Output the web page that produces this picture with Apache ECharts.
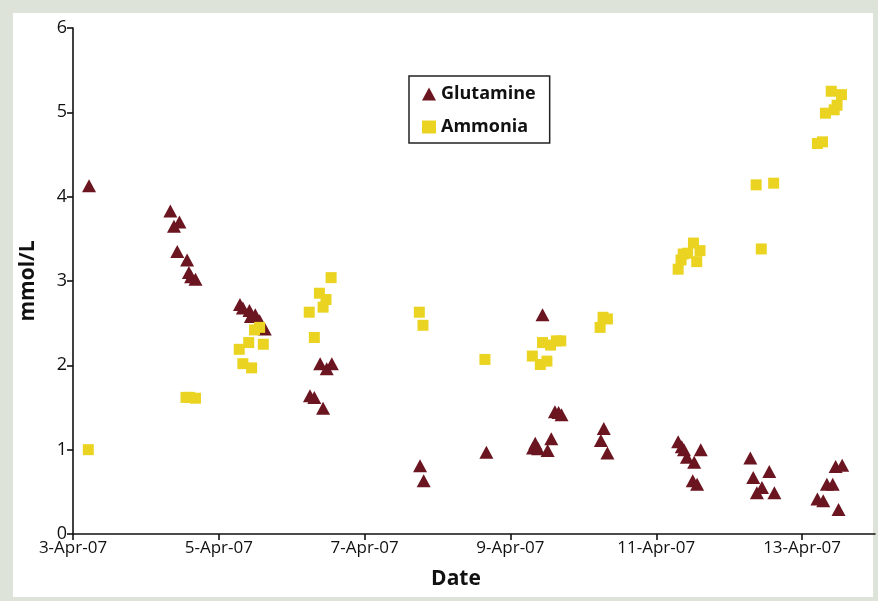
<!DOCTYPE html>
<html>
<head>
<meta charset="utf-8">
<script src="https://cdn.jsdelivr.net/npm/echarts@6/dist/echarts.min.js"></script>
<style>
  html, body { margin: 0; padding: 0; }
  #wrap { position: relative; width: 878px; height: 601px; background: #dde3d9; }
  #panel { position: absolute; left: 13px; top: 13px; width: 860px; height: 584px; background: #ffffff; }
  #chart { position: absolute; left: 0; top: 0; width: 878px; height: 601px; }
</style>
</head>
<body>
<div id="wrap"><div id="panel"></div><div id="chart"></div></div>
<script>
// x values are days since 3-Apr-07
const xTickValues = [0, 2, 4, 6, 8, 10];
const xTickLabels = ['3-Apr-07', '5-Apr-07', '7-Apr-07', '9-Apr-07', '11-Apr-07', '13-Apr-07'];

const glutamineDays = [0.22, 1.335, 1.46, 1.385, 1.43, 1.565, 1.59, 1.62, 1.68, 2.29, 2.33, 2.42, 2.44, 2.50, 2.56, 2.63,
  3.39, 3.55, 3.48, 3.25, 3.31, 3.43, 4.76, 4.81, 5.67, 6.31, 6.34, 6.38, 6.51, 6.56, 6.44, 6.61, 6.66, 6.70,
  7.24, 7.28, 7.33, 8.30, 8.35, 8.38, 8.42, 8.52, 8.61, 8.50, 8.56, 9.29, 9.33, 9.38, 9.45, 9.55, 9.62,
  10.21, 10.29, 10.34, 10.42, 10.46, 10.55, 10.50];
const glutamineValues = [4.13, 3.83, 3.70, 3.65, 3.35, 3.25, 3.10, 3.05, 3.02, 2.72, 2.68, 2.65, 2.58, 2.60, 2.53, 2.43,
  2.02, 2.02, 1.96, 1.64, 1.62, 1.49, 0.81, 0.63, 0.97, 1.02, 1.075, 1.01, 0.99, 1.13, 2.60, 1.45, 1.44, 1.415,
  1.11, 1.25, 0.96, 1.095, 1.035, 1.00, 0.91, 0.85, 1.00, 0.63, 0.59, 0.90, 0.67, 0.49, 0.55, 0.74, 0.49,
  0.415, 0.395, 0.59, 0.59, 0.80, 0.815, 0.29];

const ammoniaDays = [0.21, 1.55, 1.60, 1.68, 2.28, 2.33, 2.45, 2.41, 2.49, 2.56, 2.61, 3.24, 3.31, 3.38, 3.43, 3.47, 3.54,
  4.75, 4.80, 5.65, 6.30, 6.41, 6.44, 6.50, 6.55, 6.63, 6.69, 7.23, 7.27, 7.33,
  8.30, 8.34, 8.37, 8.43, 8.51, 8.555, 8.60, 9.37, 9.44, 9.61, 10.21, 10.28, 10.32, 10.40, 10.44, 10.48, 10.54];
const ammoniaValues = [1.00, 1.62, 1.62, 1.61, 2.19, 2.02, 1.97, 2.27, 2.42, 2.45, 2.25, 2.63, 2.33, 2.855, 2.69, 2.78, 3.04,
  2.63, 2.475, 2.07, 2.11, 2.01, 2.27, 2.05, 2.24, 2.29, 2.29, 2.45, 2.57, 2.55,
  3.14, 3.25, 3.32, 3.33, 3.45, 3.23, 3.36, 4.14, 3.38, 4.16, 4.63, 4.65, 4.99, 5.25, 5.03, 5.085, 5.21];

const pair = (xs, ys) => xs.map((x, i) => [x, ys[i]]);

const chart = echarts.init(document.getElementById('chart'), null, { renderer: 'canvas' });
const FONT = '"Open Sans", "Noto Sans", sans-serif';
chart.setOption({
  backgroundColor: 'transparent',
  animation: false,
  textStyle: { fontFamily: FONT },
  grid: { left: 73, right: 3, top: 28, bottom: 67, containLabel: false },
  legend: {
    orient: 'vertical',
    left: 409, top: 76,
    padding: [8, 14, 6, 13],
    borderColor: '#222', borderWidth: 1.5,
    backgroundColor: '#fff',
    itemWidth: 14, itemHeight: 13, itemGap: 13,
    textStyle: { fontFamily: FONT, fontWeight: 'bold', fontSize: 18, color: '#111', lineHeight: 20 },
    data: [
      { name: 'Glutamine', icon: 'triangle' },
      { name: 'Ammonia', icon: 'rect' }
    ]
  },
  xAxis: {
    type: 'value',
    min: 0, max: 11,
    name: 'Date',
    nameLocation: 'middle',
    nameGap: 35,
    nameTextStyle: { fontFamily: FONT, fontWeight: 'bold', fontSize: 21, color: '#111', padding: [0, 36, 0, 0] },
    axisLine: { lineStyle: { color: '#111', width: 1.6 } },
    axisTick: { show: true, inside: false, length: 6, lineStyle: { color: '#111', width: 1.6 }, customValues: xTickValues },
    axisLabel: {
      fontFamily: FONT, fontSize: 17, color: '#111', margin: 6,
      customValues: xTickValues,
      formatter: v => xTickLabels[xTickValues.indexOf(v)] || ''
    },
    splitLine: { show: false }
  },
  yAxis: {
    type: 'value',
    min: 0, max: 6, interval: 1,
    name: 'mmol/L',
    nameLocation: 'middle',
    nameRotate: 90,
    nameGap: 34,
    nameTextStyle: { fontFamily: FONT, fontWeight: 'bold', fontSize: 21, color: '#111' },
    axisLine: { show: true, lineStyle: { color: '#111', width: 1.6 } },
    axisTick: { show: true, inside: false, length: 6, lineStyle: { color: '#111', width: 1.6 } },
    axisLabel: { fontFamily: FONT, fontSize: 18, color: '#111', margin: 6 },
    splitLine: { show: false }
  },
  series: [
    {
      name: 'Glutamine',
      type: 'scatter',
      symbol: 'triangle',
      symbolSize: [14, 13],
      itemStyle: { color: '#6b1520', opacity: 1 },
      data: pair(glutamineDays, glutamineValues)
    },
    {
      name: 'Ammonia',
      type: 'scatter',
      symbol: 'rect',
      symbolSize: 11,
      itemStyle: { color: '#ebd421', opacity: 1 },
      data: pair(ammoniaDays, ammoniaValues)
    }
  ]
});
</script>
</body>
</html>
